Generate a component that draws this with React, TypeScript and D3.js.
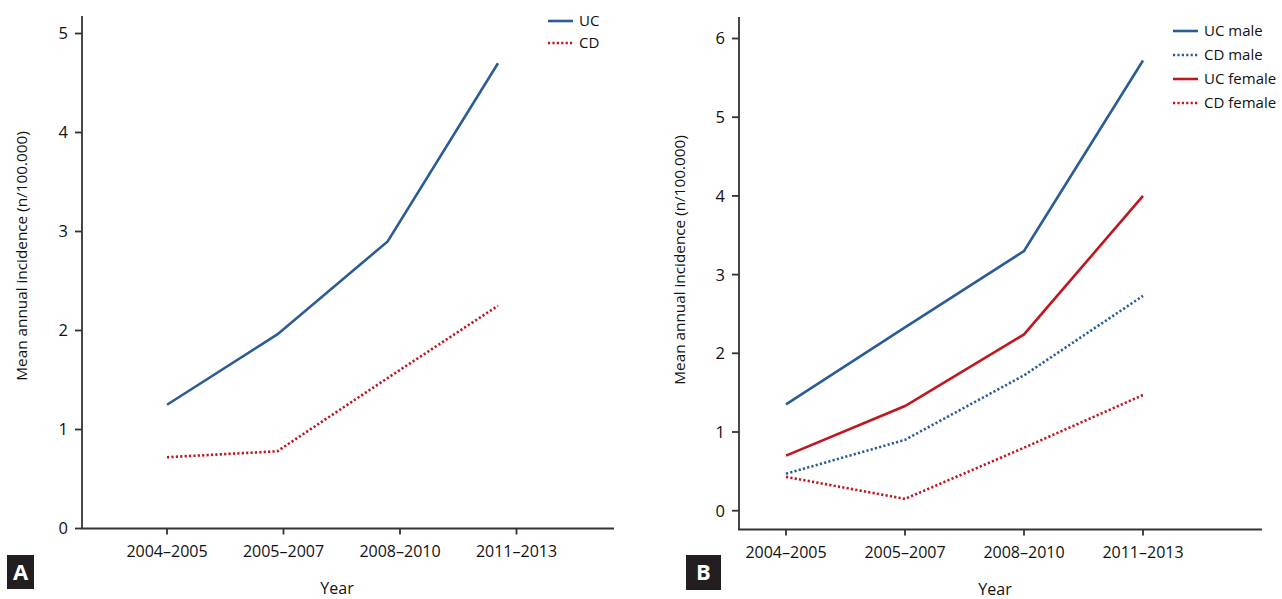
import React from "react";
import * as d3 from "d3";

const periods = ["2004–2005", "2005–2007", "2008–2010", "2011–2013"];

const ucAll = [1.25, 1.96, 2.9, 4.7];
const cdAll = [0.72, 0.78, 1.52, 2.25];

const ucMale = [1.35, 2.33, 3.3, 5.72];
const cdMale = [0.47, 0.9, 1.72, 2.73];
const ucFemale = [0.7, 1.33, 2.24, 4.0];
const cdFemale = [0.43, 0.15, 0.8, 1.47];

const yTicksA = [0, 1, 2, 3, 4, 5];
const yTicksB = [0, 1, 2, 3, 4, 5, 6];

const BLUE = "#2b5c98";
const RED = "#c1161e";
const AXIS = "#333";
const FONT = "'Open Sans', 'Noto Sans', sans-serif";

type Series = { name: string; values: number[]; color: string; dotted: boolean };

const seriesA: Series[] = [
  { name: "UC", values: ucAll, color: BLUE, dotted: false },
  { name: "CD", values: cdAll, color: RED, dotted: true },
];
const seriesB: Series[] = [
  { name: "UC male", values: ucMale, color: BLUE, dotted: false },
  { name: "CD male", values: cdMale, color: BLUE, dotted: true },
  { name: "UC female", values: ucFemale, color: RED, dotted: false },
  { name: "CD female", values: cdFemale, color: RED, dotted: true },
];

type PanelProps = {
  label: string;
  series: Series[];
  yTicks: number[];
  left: number;
  right: number;
  top: number;
  bottom: number;
  yRange: [number, number];
  tickRange: [number, number];
  dataRange: [number, number];
  legendX: number;
  legendY: number;
  legendStep: number;
  titleX: number;
  titleY: number;
  yearX: number;
  labelBox: { x: number; y: number; w: number; h: number };
};

function Panel(p: PanelProps) {
  const yMax = p.yTicks[p.yTicks.length - 1];
  const y = d3.scaleLinear().domain([0, yMax]).range(p.yRange);
  const xt = d3.scalePoint<string>().domain(periods).range(p.tickRange);
  const xd = d3.scalePoint<string>().domain(periods).range(p.dataRange);
  const line = d3
    .line<number>()
    .x((_, i) => xd(periods[i]) as number)
    .y((v) => y(v));
  return (
    <g>
      <line x1={p.left} x2={p.left} y1={p.top} y2={p.bottom} stroke={AXIS} strokeWidth={1.8} />
      <line x1={p.left - 0.9} x2={p.right} y1={p.bottom} y2={p.bottom} stroke={AXIS} strokeWidth={1.8} />
      {p.yTicks.map((t) => (
        <g key={t}>
          <line x1={p.left - 7} x2={p.left} y1={y(t)} y2={y(t)} stroke={AXIS} strokeWidth={1.8} />
          <text x={p.left - 14} y={y(t)} dy="0.36em" textAnchor="end" fontSize={16.5} fontFamily={FONT} fill="#111">
            {t}
          </text>
        </g>
      ))}
      {periods.map((c) => (
        <g key={c}>
          <line x1={xt(c)} x2={xt(c)} y1={p.bottom} y2={p.bottom + 6} stroke={AXIS} strokeWidth={1.8} />
          <text x={xt(c)} y={p.bottom + 28} textAnchor="middle" fontSize={16} fontFamily={FONT} fill="#111">
            {c}
          </text>
        </g>
      ))}
      <text x={p.yearX} y={p.bottom + 65} textAnchor="middle" fontSize={16} fontFamily={FONT} fill="#111">
        Year
      </text>
      <text
        transform={`translate(${p.titleX},${p.titleY}) rotate(-90)`}
        textAnchor="middle"
        fontSize={15.3}
        fontFamily={FONT}
        fill="#111"
      >
        Mean annual incidence (n/100.000)
      </text>
      {p.series.map((s) => (
        <path
          key={s.name}
          d={line(s.values) as string}
          fill="none"
          stroke={s.color}
          strokeWidth={2.6}
          strokeDasharray={s.dotted ? "2.2 2.2" : undefined}
        />
      ))}
      {p.series.map((s, i) => (
        <g key={s.name} transform={`translate(${p.legendX},${p.legendY + i * p.legendStep})`}>
          <line x1={0} x2={25} y1={0} y2={0} stroke={s.color} strokeWidth={2.6} strokeDasharray={s.dotted ? "2.2 2.2" : undefined} />
          <text x={31} y={0} dy="0.36em" fontSize={15} fontFamily={FONT} fill="#111">
            {s.name}
          </text>
        </g>
      ))}
      <rect x={p.labelBox.x} y={p.labelBox.y} width={p.labelBox.w} height={p.labelBox.h} fill="#231f20" />
      <text
        x={p.labelBox.x + p.labelBox.w / 2}
        y={p.labelBox.y + p.labelBox.h / 2}
        dy="0.36em"
        textAnchor="middle"
        fontSize={22}
        fontWeight="bold"
        fontFamily={FONT}
        fill="#fff"
      >
        {p.label}
      </text>
    </g>
  );
}

export default function App() {
  return (
    <svg width={1282} height={599} style={{ position: "absolute", left: 0, top: 0, background: "#fff" }}>
      <Panel
        label="A"
        series={seriesA}
        yTicks={yTicksA}
        left={82}
        right={614}
        top={16}
        bottom={528.5}
        yRange={[528.5, 33.5]}
        tickRange={[167, 516.5]}
        dataRange={[167, 498]}
        legendX={548}
        legendY={21}
        legendStep={22}
        titleX={27}
        titleY={256}
        yearX={337}
        labelBox={{ x: 7, y: 555, w: 27, h: 34 }}
      />
      <Panel
        label="B"
        series={seriesB}
        yTicks={yTicksB}
        left={739}
        right={1262}
        top={17}
        bottom={529.5}
        yRange={[510.7, 38.5]}
        tickRange={[786, 1143]}
        dataRange={[786, 1143]}
        legendX={1173}
        legendY={31}
        legendStep={24}
        titleX={685}
        titleY={260}
        yearX={995}
        labelBox={{ x: 686, y: 555, w: 35, h: 35 }}
      />
    </svg>
  );
}
